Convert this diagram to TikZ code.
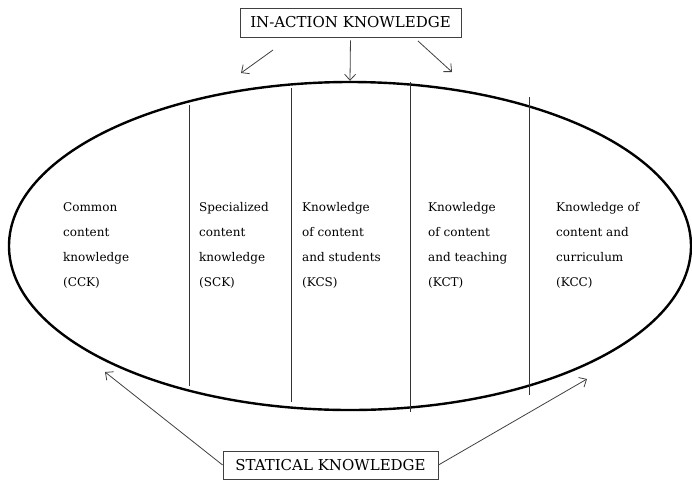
\documentclass[tikz,border=0pt]{standalone}
\usepackage{fontspec}
\setmainfont{DejaVu Serif}
\usetikzlibrary{shapes.geometric,arrows.meta}
\tikzset{
  kbox/.style={draw=black!75,line width=0.8pt,inner sep=0pt,minimum width=221pt,minimum height=29pt,font=\fontsize{15}{17}\selectfont},
  karrow/.style={draw=black!75,line width=0.8pt,-{Straight Barb[length=6pt,width=11pt]}},
  divider/.style={draw=black!80,line width=0.9pt},
  coltext/.style={anchor=base west,inner sep=0pt,align=left,font=\fontsize{12}{25}\selectfont},
}
\begin{document}
\begin{tikzpicture}[x=1pt,y=-1pt]
\useasboundingbox (0,0) rectangle (692,480);
% the big ellipse
\node[ellipse,draw,line width=2.4pt,minimum width=682pt,minimum height=328pt,inner sep=0pt] (pck) at (350,246) {};
% dividers
\foreach \x/\ya/\yb in {189/105/386, 291/88/402, 410/82/412, 529/97/395}
  \draw[divider] (\x,\ya) -- (\x,\yb);

% In-action knowledge
\node[kbox] (inaction) at (350.5,22.5) {IN-ACTION KNOWLEDGE};
\coordinate (ia-ls) at (273,50);
\coordinate (ia-le) at (241,73);
\coordinate (ia-rs) at (418,41);
\coordinate (ia-re) at (452,72);
\draw[karrow] (ia-ls) -- (ia-le);
\draw[karrow,shorten <=3pt] (inaction.south) -- (pck.north);
\draw[karrow] (ia-rs) -- (ia-re);

% Statical knowledge
\node[kbox,minimum width=215pt,minimum height=28pt] (statical) at (330.5,465) {STATICAL KNOWLEDGE};
\coordinate (st-l) at (105,372);
\coordinate (st-r) at (587,379);
\draw[karrow] (statical.west) -- (st-l);
\draw[karrow] (statical.east) -- (st-r);

% the five domains (base = last line)
\node[coltext] (cck) at (63,286) {Common\\content\\knowledge\\(CCK)};
\node[coltext] (sck) at (199,286) {Specialized\\content\\knowledge\\(SCK)};
\node[coltext] (kcs) at (302,286) {Knowledge\\of content\\and students\\(KCS)};
\node[coltext] (kct) at (428,286) {Knowledge\\of content\\and teaching\\(KCT)};
\node[coltext] (kcc) at (556,286) {Knowledge of\\content and\\curriculum\\(KCC)};
\end{tikzpicture}
\end{document}
